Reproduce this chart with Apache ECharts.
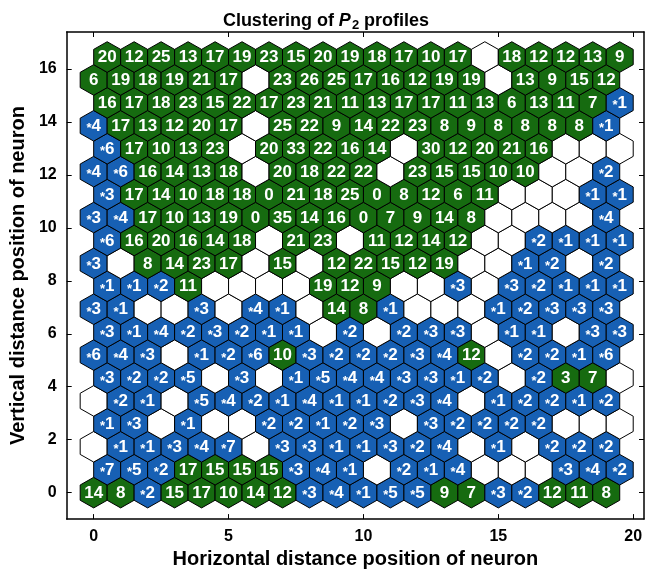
<!DOCTYPE html>
<html>
<head>
<meta charset="utf-8">
<script src="https://cdn.jsdelivr.net/npm/echarts@6/dist/echarts.min.js"></script>
<style>
html,body{margin:0;padding:0;background:#fff;}
#chart{width:652px;height:574px;}
</style>
</head>
<body>
<div id="chart"></div>
<script>
// Tick labels
const xTicks = [0, 5, 10, 15, 20];
const yTicks = [0, 2, 4, 6, 8, 10, 12, 14, 16];

// Neuron hit labels per hex row (row 0 = bottom). "*n" = blue cluster, number = green cluster, "" = empty neuron
const row0  = ["14","8","*2","15","17","10","14","12","*3","*4","*1","*5","*5","9","7","*3","*2","12","11","8"];
const row1  = ["*7","*5","*2","17","15","15","15","*3","*4","*1","","*2","*1","*4","","","","*3","*4","*2"];
const row2  = ["","*1","*1","*3","*4","*7","","*3","*3","*1","*1","*3","*2","*4","","*1","","*2","*2","*2"];
const row3  = ["*1","*3","","*1","","","*2","*2","*1","*2","*3","","*3","*2","*2","*2","*2","","",""];
const row4  = ["","*2","*1","","*5","*4","*2","*1","*4","*1","*1","*2","*3","*4","","*1","*2","*2","*1","*2"];
const row5  = ["*3","*2","*2","*5","","*3","","*1","*5","*4","*4","*3","*3","*1","*2","","*2","3","7",""];
const row6  = ["*6","*4","*3","","*1","*2","*6","10","*3","*2","*2","*2","*3","*4","12","","*2","*2","*1","*6"];
const row7  = ["*3","*1","*4","*2","*3","*2","*1","*1","","*2","","*2","*3","*3","","*1","*1","","*3","*3"];
const row8  = ["*3","*1","","","*3","","*4","*1","","14","8","*1","","","","*1","*2","*3","*3","*3"];
const row9  = ["*1","*1","*2","11","","","","","19","12","9","","","*3","","*3","*2","*1","*1","*1"];
const row10 = ["*3","","8","14","23","17","","15","","12","22","15","12","19","","","*1","*2","","*2"];
const row11 = ["*6","16","20","16","14","18","","21","23","","11","12","14","12","","","*2","*1","*1","*1"];
const row12 = ["*3","*4","17","10","13","19","0","35","14","16","0","7","9","14","8","","","","","*4"];
const row13 = ["*3","17","14","10","18","18","0","21","18","25","0","8","12","6","11","","","","*1","*1"];
const row14 = ["*4","*6","16","14","13","18","","20","18","22","22","","23","15","15","10","10","","","*2"];
const row15 = ["*6","17","10","13","23","","20","33","22","16","14","","30","12","20","21","16","","",""];
const row16 = ["*4","17","13","12","20","17","","25","22","9","14","22","23","8","9","8","8","8","8","*1"];
const row17 = ["16","17","18","23","15","22","17","23","21","11","13","17","17","11","13","6","13","11","7","*1"];
const row18 = ["6","19","18","19","21","17","","23","26","25","17","16","12","19","19","","13","9","15","12"];
const row19 = ["20","12","25","13","17","19","23","15","20","19","18","17","10","17","","18","12","12","13","9"];

const hexRows = [row0,row1,row2,row3,row4,row5,row6,row7,row8,row9,row10,row11,row12,row13,row14,row15,row16,row17,row18,row19];

const GREEN = '#166b10';
const BLUE = '#1760b4';

const cells = [];
const labels = [];
hexRows.forEach(function (row, r) {
  row.forEach(function (lab, c) {
    cells.push([c + (r % 2) * 0.5, r * Math.sqrt(3) / 2]);
    labels.push(lab);
  });
});

const chart = echarts.init(document.getElementById('chart'), null, {renderer: 'canvas'});
const R = 1 / Math.sqrt(3);
const FONT = '"Liberation Sans", Arial, Helvetica, sans-serif';

function renderHex(params, api) {
  const x = api.value(0), y = api.value(1);
  const pts = [];
  for (let k = 0; k < 6; k++) {
    const a = (90 + 60 * k) * Math.PI / 180;
    pts.push(api.coord([x + R * Math.cos(a), y + R * Math.sin(a)]));
  }
  const lab = labels[params.dataIndex];
  let fill = '#ffffff';
  if (lab !== '') fill = lab.charAt(0) === '*' ? BLUE : GREEN;
  const c = api.coord([x, y]);
  const children = [{
    type: 'polygon',
    shape: {points: pts},
    style: {fill: fill, stroke: '#000', lineWidth: 1}
  }];
  if (lab !== '') {
    const star = lab.charAt(0) === '*';
    children.push({
      type: 'text',
      x: c[0], y: c[1] + 0.5,
      style: {
        text: star ? '{s|*}{n|' + lab.slice(1) + '}' : '{n|' + lab + '}',
        align: 'center', verticalAlign: 'middle',
        rich: {
          n: {fill: '#fff', fontFamily: FONT, fontWeight: 'bold', fontSize: 17},
          s: {fill: '#fff', fontFamily: FONT, fontWeight: 'bold', fontSize: 13, padding: [5, 0, 0, 0]}
        }
      }
    });
  }
  return {type: 'group', children: children};
}

const axisLine = {show: true, onZero: false, lineStyle: {color: '#000', width: 1.5}};
const tickLine = {color: '#000', width: 1};
const labelFont = {color: '#000', fontFamily: FONT, fontWeight: 'bold', fontSize: 16};
const nameFont = {color: '#000', fontFamily: FONT, fontWeight: 'bold', fontSize: 20};

chart.setOption({
  animation: false,
  backgroundColor: '#fff',
  title: {
    text: '{a|Clustering of }{i|P}{s|2}{a| profiles}',
    left: 'center', top: 5,
    textStyle: {
      rich: {
        a: {fontFamily: FONT, fontWeight: 'bold', fontSize: 18, color: '#000'},
        i: {fontFamily: FONT, fontWeight: 'bold', fontStyle: 'italic', fontSize: 18, color: '#000'},
        s: {fontFamily: FONT, fontWeight: 'bold', fontSize: 13, color: '#000', padding: [9, 0, 0, 1]}
      }
    }
  },
  grid: {left: 65, right: 8, top: 32, bottom: 46, containLabel: false},
  xAxis: [{
    type: 'value', min: -1, max: 20.4, position: 'bottom',
    axisLine: axisLine,
    splitLine: {show: false},
    axisTick: {show: true, inside: true, length: 5, customValues: xTicks, lineStyle: tickLine},
    axisLabel: Object.assign({customValues: xTicks, margin: 9}, labelFont),
    name: 'Horizontal distance position of neuron',
    nameLocation: 'middle', nameGap: 25,
    nameTextStyle: nameFont
  }, {
    type: 'value', min: -1, max: 20.4, position: 'top',
    axisLine: axisLine,
    splitLine: {show: false},
    axisTick: {show: true, inside: true, length: 5, customValues: xTicks, lineStyle: tickLine},
    axisLabel: {show: false}
  }],
  yAxis: [{
    type: 'value', min: -1, max: 17.4, position: 'left',
    axisLine: axisLine,
    splitLine: {show: false},
    axisTick: {show: true, inside: true, length: 5, customValues: yTicks, lineStyle: tickLine},
    axisLabel: Object.assign({customValues: yTicks, margin: 10}, labelFont),
    name: 'Vertical distance position of neuron',
    nameLocation: 'middle', nameGap: 32, nameRotate: 90,
    nameTextStyle: nameFont
  }, {
    type: 'value', min: -1, max: 17.4, position: 'right',
    axisLine: axisLine,
    splitLine: {show: false},
    axisTick: {show: true, inside: true, length: 5, customValues: yTicks, lineStyle: tickLine},
    axisLabel: {show: false}
  }],
  series: [{
    type: 'custom',
    xAxisIndex: 0, yAxisIndex: 0,
    clip: false,
    renderItem: renderHex,
    encode: {x: 0, y: 1},
    data: cells
  }]
});
</script>
</body>
</html>
